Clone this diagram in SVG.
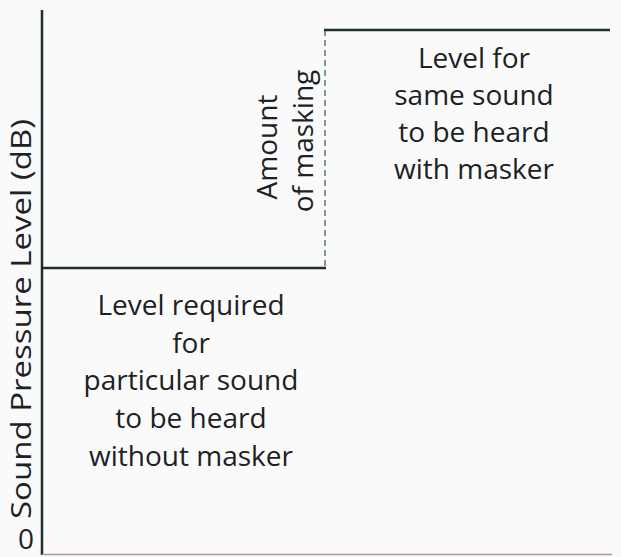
<svg xmlns="http://www.w3.org/2000/svg" width="621" height="557" viewBox="0 0 621 557">
<style>
.t{font-family:"Open Sans","Liberation Sans",sans-serif;font-size:28px;fill:#1a2224;text-anchor:middle}
.ax{stroke:#1f2d33;stroke-width:2.5;fill:none}
</style>
<rect width="621" height="557" fill="#fafafa"/>
<g id="axes">
<line class="ax" x1="42" y1="10" x2="42" y2="555"/>
<line x1="42" y1="554.5" x2="612" y2="554.5" stroke="#b89890" stroke-width="1.5"/>
<text class="t" x="0" y="0" transform="translate(31,319) rotate(-90)" textLength="400" lengthAdjust="spacingAndGlyphs">Sound Pressure Level (dB)</text>
<text class="t" x="26" y="549" font-size="20">0</text>
</g>
<g id="connectors">
<line class="ax" x1="42" y1="268" x2="326" y2="268"/>
<line x1="325" y1="30" x2="325" y2="268" stroke="#5a7a8a" stroke-width="1.5" stroke-dasharray="6,4"/>
<line class="ax" x1="324" y1="30" x2="610" y2="30"/>
</g>
<g id="without">
<text class="t" x="191" y="315">Level required</text>
<text class="t" x="191" y="353">for</text>
<text class="t" x="191" y="390">particular sound</text>
<text class="t" x="191" y="428">to be heard</text>
<text class="t" x="191" y="466">without masker</text>
</g>
<g id="with">
<text class="t" x="474" y="68">Level for</text>
<text class="t" x="474" y="105">same sound</text>
<text class="t" x="474" y="142">to be heard</text>
<text class="t" x="474" y="179">with masker</text>
</g>
<g id="amount">
<text class="t" font-size="29" transform="translate(277,147) rotate(-90)">Amount</text>
<text class="t" font-size="29" transform="translate(313,141) rotate(-90)">of masking</text>
</g>
</svg>
